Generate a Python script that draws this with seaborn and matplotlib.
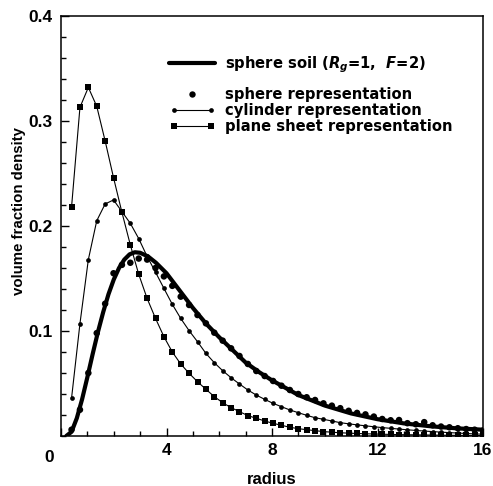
import seaborn as sns
import pandas as pd
import matplotlib.pyplot as plt
from matplotlib.lines import Line2D
from matplotlib.legend_handler import HandlerLine2D
import matplotlib.transforms as mtransforms
import numpy as np

# radius grid of the three representations (50 evenly spaced points)
radius = np.linspace(0.4, 16.0, 50)

# sphere representation (large dots)
sphere_rep = [0.006, 0.025, 0.060, 0.098, 0.126, 0.155, 0.163, 0.165, 0.169, 0.168,
              0.160, 0.152, 0.143, 0.1327, 0.1248, 0.1152, 0.1073, 0.0984, 0.0908, 0.0835,
              0.0762, 0.0686, 0.0619, 0.0571, 0.0524, 0.0479, 0.0438, 0.0400, 0.0369, 0.0343,
              0.0311, 0.0289, 0.0265, 0.0240, 0.0220, 0.0206, 0.0185, 0.0162, 0.0150, 0.0152,
              0.0122, 0.0112, 0.0132, 0.0102, 0.0090, 0.0083, 0.0074, 0.0066, 0.0060, 0.0052]

# cylinder representation (small dots + line)
cylinder_rep = [0.036, 0.107, 0.168, 0.205, 0.221, 0.2248, 0.2137, 0.2025, 0.188, 0.171,
                0.156, 0.1406, 0.1254, 0.112, 0.1003, 0.0898, 0.0787, 0.0698, 0.0622, 0.0555,
                0.0495, 0.0438, 0.0390, 0.0349, 0.0311, 0.0279, 0.0248, 0.0222, 0.0197, 0.0174,
                0.0159, 0.0143, 0.0127, 0.0116, 0.0106, 0.0097, 0.0088, 0.0080, 0.0073, 0.0066,
                0.0059, 0.0053, 0.0047, 0.0042, 0.0037, 0.0032, 0.0028, 0.0024, 0.0020, 0.0017]

# plane sheet representation (squares + line)
plane_rep = [0.218, 0.313, 0.332, 0.314, 0.281, 0.246, 0.213, 0.182, 0.154, 0.131,
             0.112, 0.0946, 0.080, 0.0686, 0.0597, 0.0517, 0.0445, 0.0375, 0.0317, 0.0270,
             0.0232, 0.0194, 0.0169, 0.0143, 0.0121, 0.0102, 0.0083, 0.0070, 0.0060, 0.0051,
             0.0042, 0.0036, 0.0031, 0.0027, 0.0024, 0.0021, 0.0019, 0.0017, 0.0015, 0.0013,
             0.0012, 0.0011, 0.0010, 0.0009, 0.0008, 0.0007, 0.0006, 0.0006, 0.0005, 0.0005]

# sphere soil, smooth curve
soil_r = [0.2, 0.4, 0.6, 0.8, 1.0, 1.2, 1.4, 1.6, 1.8, 2.0, 2.2, 2.4, 2.6, 2.8, 3.0,
          3.3, 3.6, 4.0, 4.5, 5.0, 5.5, 6.0, 6.5, 7.0, 7.5, 8.0, 9.0, 10.0, 11.0, 12.0,
          13.0, 14.0, 15.0, 16.0]
soil_f = [0.0, 0.004, 0.017, 0.035, 0.056, 0.078, 0.099, 0.118, 0.135, 0.149, 0.160,
          0.168, 0.173, 0.175, 0.1745, 0.171, 0.165, 0.155, 0.1385, 0.122, 0.107, 0.094,
          0.082, 0.070, 0.061, 0.053, 0.039, 0.029, 0.0215, 0.016, 0.012, 0.0093, 0.0073,
          0.006]

x_ticks = [0, 4, 8, 12, 16]
y_ticks = [0.1, 0.2, 0.3, 0.4]

df = pd.DataFrame({'radius': radius, 'sphere': sphere_rep,
                   'cylinder': cylinder_rep, 'plane': plane_rep})
soil = pd.DataFrame({'radius': soil_r, 'density': soil_f})


class RightDot(HandlerLine2D):
    # single marker at the right end of the legend handle
    def get_xdata(self, legend, xdescent, ydescent, width, height, fontsize):
        xdata = np.array([-xdescent, -xdescent + width])
        return xdata, np.array([-xdescent + width])


sns.set_style('ticks')
plt.rcParams['font.family'] = ['Liberation Sans', 'DejaVu Sans']
plt.rcParams['font.weight'] = 'bold'
plt.rcParams['text.color'] = 'black'
plt.rcParams['axes.labelcolor'] = 'black'
plt.rcParams['xtick.color'] = 'black'
plt.rcParams['ytick.color'] = 'black'
plt.rcParams['mathtext.fontset'] = 'custom'
plt.rcParams['mathtext.it'] = 'DejaVu Sans:bold:italic'
plt.rcParams['mathtext.rm'] = 'DejaVu Sans:bold'

fig = plt.figure(figsize=(4.93, 4.86), dpi=100)
ax = fig.add_axes([61 / 493, 50 / 486, 422 / 493, 420 / 486])

# smooth soil curve
sns.lineplot(x='radius', y='density', data=soil, color='black', lw=3.0, ax=ax, zorder=2)

# representations
sns.lineplot(x='radius', y='plane', data=df, color='black', lw=0.8, marker='s',
             markersize=3.8, markeredgewidth=0, ax=ax, zorder=3)
sns.lineplot(x='radius', y='cylinder', data=df, color='black', lw=0.8, marker='o',
             markersize=3.4, markeredgewidth=0, ax=ax, zorder=3)
sns.scatterplot(x='radius', y='sphere', data=df, color='black', s=22,
                edgecolor='none', ax=ax, zorder=4)

ax.set_xlim(0, 16)
ax.set_ylim(0, 0.4)
ax.set_xticks(x_ticks)
ax.set_xticklabels([''] + [str(t) for t in x_ticks[1:]])
ax.set_xticks(np.arange(0, 17, 1), minor=True)
ax.set_yticks(y_ticks)
ax.set_yticklabels([str(t) for t in y_ticks])
ax.set_yticks(np.arange(0, 0.401, 0.02), minor=True)
ax.tick_params(which='both', direction='in', top=False, right=False, width=1.0,
               labelsize=12.5, color='black', labelcolor='black')
ax.tick_params(which='major', length=5.5)
ax.tick_params(which='minor', length=3.5)
ax.tick_params(axis='x', pad=5)
ax.tick_params(axis='y', pad=6)
for s in ax.spines.values():
    s.set_linewidth(1.1)
    s.set_color('black')

# corner "0" label
trans = mtransforms.blended_transform_factory(ax.transData, ax.transAxes)
ax.text(-0.43, -0.05, '0', transform=trans, ha='center', va='center',
        fontsize=12.5, fontweight='bold', color='black')

ax.set_xlabel('radius', fontsize=12, fontweight='bold', labelpad=10, color='black')
ax.set_ylabel('volume fraction density', fontsize=10.8, fontweight='bold', color='black')
ax.yaxis.set_label_coords(-0.082, 0.535)

# legends
leg_font = {'family': 'DejaVu Sans', 'weight': 'bold', 'size': 10.6}
h_soil = Line2D([], [], color='black', lw=3.0)
leg1 = ax.legend([h_soil], [r'sphere soil ($R_g$=1,  $F$=2)'], loc='upper left',
                 bbox_to_anchor=(0.257, 0.908), frameon=False, prop=leg_font,
                 handlelength=3.1, handletextpad=0.65, borderpad=0, borderaxespad=0,
                 labelcolor='black')
ax.add_artist(leg1)

h_sph = Line2D([], [], color='black', lw=0, marker='o', markersize=4.6, markeredgewidth=0)
h_cyl = Line2D([], [], color='black', lw=0.8, marker='o', markersize=3.4, markeredgewidth=0)
h_pln = Line2D([], [], color='black', lw=0.8, marker='s', markersize=3.8, markeredgewidth=0)
ax.legend([h_sph, h_cyl, h_pln],
          ['sphere representation', 'cylinder representation', 'plane sheet representation'],
          loc='upper left', bbox_to_anchor=(0.257, 0.831), frameon=False, prop=leg_font,
          handlelength=3.1, handletextpad=0.65, borderpad=0, borderaxespad=0,
          labelspacing=0.08, numpoints=2, labelcolor='black',
          handler_map={h_sph: RightDot(numpoints=1)})

plt.savefig('out.png', dpi=100)
